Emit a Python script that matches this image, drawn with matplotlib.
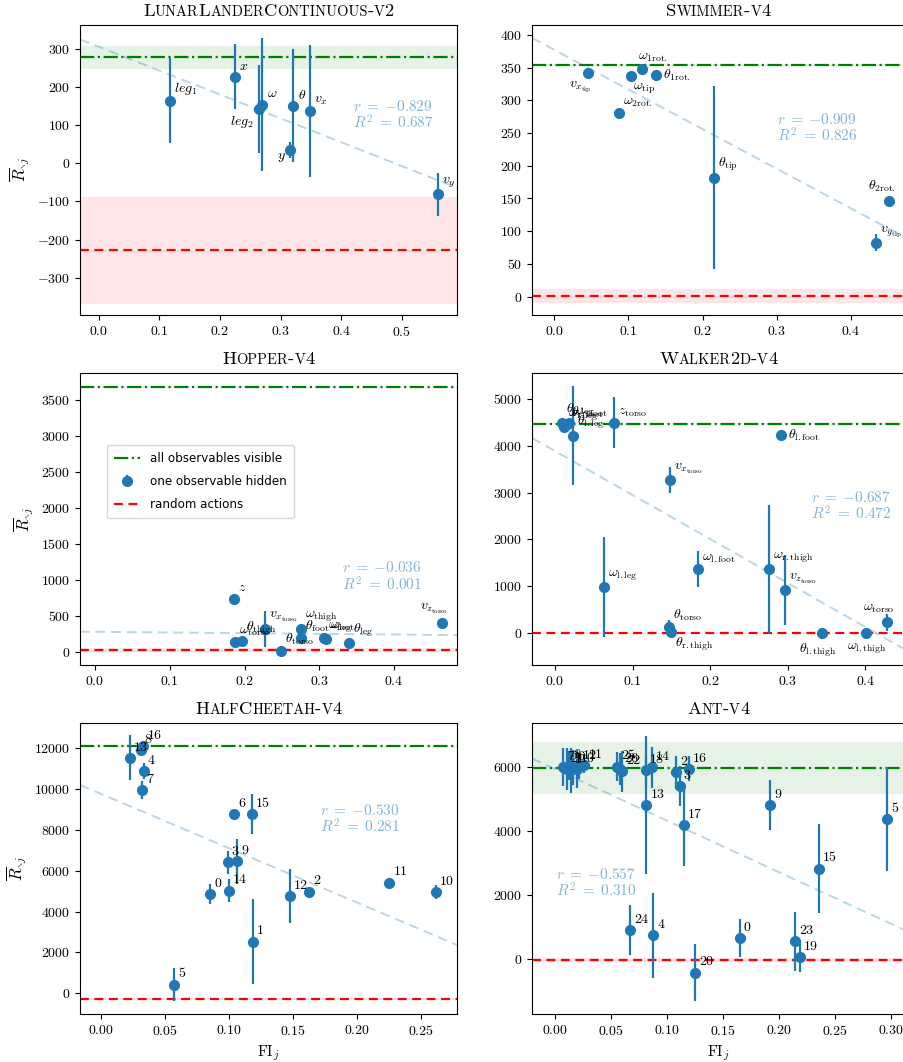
import numpy as np
import matplotlib
matplotlib.use("Agg")
import matplotlib.pyplot as plt
from matplotlib.ticker import MultipleLocator
from matplotlib.offsetbox import TextArea, HPacker, AnchoredOffsetbox

plt.rcParams['font.family'] = 'serif'
plt.rcParams['font.serif'] = ['cmr10']
plt.rcParams['mathtext.fontset'] = 'cm'
plt.rcParams['axes.formatter.use_mathtext'] = True
plt.rcParams['font.size'] = 10

# ---- LunarLanderContinuous-v2
ll_names = [r'$leg_1$', r'$x$', r'$leg_2$', r'$\omega$', r'$\theta$', r'$y$', r'$v_x$', r'$v_y$']
ll_fi = [0.117, 0.225, 0.264, 0.270, 0.321, 0.316, 0.349, 0.559]
ll_ret = [164, 227, 143, 154, 151, 35, 137, -81]
ll_err = [112, 85, 115, 175, 148, 22, 173, 56]
ll_full = (278, 31)
ll_rand = (-228, 140)

# ---- Swimmer-v4
sw_names = [r'$v_{x_\mathrm{tip}}$', r'$\omega_\mathrm{tip}$', r'$\omega_\mathrm{1rot.}$',
            r'$\theta_\mathrm{1rot.}$', r'$\omega_\mathrm{2rot.}$', r'$\theta_\mathrm{tip}$',
            r'$\theta_\mathrm{2rot.}$', r'$v_{y_\mathrm{tip}}$']
sw_fi = [0.045, 0.103, 0.119, 0.1375, 0.087, 0.215, 0.451, 0.434]
sw_ret = [341, 337, 347, 338, 280, 182, 146, 82]
sw_err = [3, 3, 3, 3, 3, 140, 3, 13]
sw_full = (353.6, 2)
sw_rand = (1, 11)

# ---- Hopper-v4
ho_names = [r'$\omega_\mathrm{torso}$', r'$\theta_\mathrm{thigh}$', r'$z$', r'$v_{x_\mathrm{torso}}$',
            r'$\theta_\mathrm{torso}$', r'$\omega_\mathrm{thigh}$', r'$\theta_\mathrm{foot}$',
            r'$\omega_\mathrm{foot}$', r'$\omega_\mathrm{leg}$', r'$\theta_\mathrm{leg}$',
            r'$v_{z_\mathrm{torso}}$']
ho_fi = [0.1875, 0.197, 0.186, 0.2276, 0.2486, 0.2748, 0.2748, 0.306, 0.3087, 0.340, 0.464]
ho_ret = [134, 153, 737, 320, 14, 320, 185, 195, 171, 125, 403]
ho_err = [20, 20, 30, 250, 15, 20, 20, 20, 20, 20, 20]
ho_full = (3671, 10)
ho_rand = (23, 30)

# ---- Walker2d-v4
wa_names = [r'$\theta_\mathrm{r.leg}$', r'$\omega_\mathrm{r.leg}$', r'$\theta_\mathrm{r.foot}$',
            r'$\omega_\mathrm{r.foot}$', r'$\theta_\mathrm{l.leg}$', r'$z_\mathrm{torso}$',
            r'$\theta_\mathrm{l.foot}$', r'$v_{x_\mathrm{torso}}$', r'$\omega_\mathrm{l.leg}$',
            r'$\omega_\mathrm{l.foot}$', r'$\omega_\mathrm{r.thigh}$', r'$v_{z_\mathrm{torso}}$',
            r'$\omega_\mathrm{torso}$', r'$\theta_\mathrm{torso}$', r'$\theta_\mathrm{r.thigh}$',
            r'$\theta_\mathrm{l.thigh}$', r'$\omega_\mathrm{l.thigh}$']
wa_fi = [0.0086, 0.012, 0.015, 0.018, 0.0227, 0.076, 0.2918, 0.1485, 0.0627, 0.1845,
         0.2755, 0.2966, 0.4275, 0.1468, 0.149, 0.3446, 0.4013]
wa_ret = [4479, 4393, 4464, 4480, 4214, 4486, 4221, 3271, 979, 1364,
          1364, 914, 236, 129, 14, 0, 0]
wa_err = [60, 60, 60, 60, 1050, 547, 50, 275, 1071, 379,
          1364, 750, 180, 143, 20, 10, 10]
wa_full = (4471, 10)
wa_rand = (0, 10)

# ---- HalfCheetah-v4 (observables by index)
hc_fi = [0.0855, 0.119, 0.1627, 0.099, 0.0334, 0.0574, 0.104, 0.0323, 0.031,
         0.1066, 0.2617, 0.2255, 0.1476, 0.0227, 0.0998, 0.1178, 0.033]
hc_ret = [4865, 2531, 4980, 6400, 10890, 424, 8784, 9959, 11900,
          6449, 4947, 5420, 4751, 11526, 5029, 8751, 12080]
hc_err = [490, 2060, 60, 570, 390, 790, 60, 430, 200,
          1100, 350, 60, 1330, 1090, 540, 980, 150]
hc_full = (12082, 30)
hc_rand = (-278, 30)

# ---- Ant-v4 (observables by index)
an_fi = [0.1644, 0.014, 0.108, 0.111, 0.0871, 0.2958, 0.016, 0.007, 0.012,
         0.1914, 0.019, 0.026, 0.021, 0.0812, 0.086, 0.2354, 0.119, 0.1147,
         0.0809, 0.218, 0.1246, 0.010, 0.0595, 0.2137, 0.0669, 0.0547, 0.0575]
an_ret = [660, 5900, 5843, 5414, 733, 4366, 6000, 6000, 6050,
          4817, 5950, 6060, 6030, 4817, 5990, 2827, 5948, 4178,
          5916, 52, -429, 5950, 5870, 545, 890, 6020, 5950]
an_err = [600, 700, 520, 620, 1320, 1630, 550, 600, 450,
          785, 600, 250, 400, 2150, 650, 1390, 390, 1280,
          500, 470, 905, 650, 650, 920, 785, 450, 500]
an_full = (5969, 816)
an_rand = (-31, 60)

# correlation stats shown in each panel
r_vals = [-0.829, -0.909, -0.036, -0.687, -0.530, -0.557]
r2_vals = [0.687, 0.826, 0.001, 0.472, 0.281, 0.310]


def sc_title(ax, text, size=13.4):
    # small-caps title built from runs of big / small capitals
    runs = []
    for ch in text:
        fs = size * 0.78 if ch.islower() else size
        if runs and runs[-1][1] == fs:
            runs[-1][0] += ch.upper()
        else:
            runs.append([ch.upper(), fs])
    boxes = [TextArea(t, textprops=dict(fontsize=fs, family='cmr10')) for t, fs in runs]
    row = HPacker(children=boxes, align='baseline', pad=0, sep=0)
    box = AnchoredOffsetbox(loc='lower center', child=row, pad=0, borderpad=0, frameon=False,
                            bbox_to_anchor=(0.5, 1.02), bbox_transform=ax.transAxes)
    ax.add_artist(box)


def panel(ax, title, names, fi, ret, err, full, rand, xlim, ylim, xstep, ystep,
          k, txt_pos, offsets={}):
    fi = np.asarray(fi)
    ret = np.asarray(ret)
    ax.axhspan(full[0] - full[1], full[0] + full[1], color='g', alpha=0.1, lw=0)
    ax.axhspan(rand[0] - rand[1], rand[0] + rand[1], color='r', alpha=0.1, lw=0)
    h_full = ax.axhline(full[0], color='g', ls='-.', lw=1.6, label='all observables visible')
    h_obs = ax.errorbar(fi, ret, yerr=err, fmt='o', color='C0', ms=7, elinewidth=1.6,
                        label='one observable hidden', zorder=3)
    h_rand = ax.axhline(rand[0], color='r', lw=1.6, dashes=(4, 2.5), label='random actions')

    slope, icpt = np.polyfit(fi, ret, 1)
    xs = np.array(xlim)
    ax.plot(xs, slope * xs + icpt, color='C0', alpha=0.3, lw=1.4, dashes=(5, 3), zorder=2)
    ax.text(txt_pos[0], txt_pos[1],
            r'$r\;=\;{%.3f}$' % r_vals[k] + '\n' + r'$R^2\;=\;{%.3f}$' % r2_vals[k],
            transform=ax.transAxes, color='C0', alpha=0.55, fontsize=11,
            ha='left', va='top', linespacing=1.0)

    for i, name in enumerate(names):
        dx, dy, ha, va = offsets.get(i, (3, 3, 'left', 'bottom'))
        ax.annotate(name, (fi[i], ret[i]), xytext=(dx, dy), textcoords='offset points',
                    ha=ha, va=va, fontsize=10, zorder=4)

    ax.set_xlim(xlim)
    ax.set_ylim(ylim)
    ax.xaxis.set_major_locator(MultipleLocator(xstep))
    ax.yaxis.set_major_locator(MultipleLocator(ystep))
    sc_title(ax, title)
    return [h_full, h_obs, h_rand]


fig = plt.figure(figsize=(9.04, 10.62), dpi=100)
lefts = [0.0885, 0.5885]
widths = [0.417, 0.4125]
bottoms = [0.7034, 0.3738, 0.0452]
heights = [0.2731, 0.2750, 0.2740]
axs = [[fig.add_axes([lefts[c], bottoms[r], widths[c], heights[r]]) for c in range(2)]
       for r in range(3)]

panel(axs[0][0], 'LunarLanderContinuous-v2', ll_names, ll_fi, ll_ret, ll_err, ll_full, ll_rand,
      (-0.031, 0.591), (-398, 363), 0.1, 100, 0, (0.724, 0.745),
      {2: (-4, -4, 'right', 'top'), 5: (-3, -1, 'right', 'top')})

panel(axs[0][1], 'Swimmer-v4', sw_names, sw_fi, sw_ret, sw_err, sw_full, sw_rand,
      (-0.030, 0.473), (-28, 415), 0.1, 50, 1, (0.657, 0.70),
      {0: (3, -4, 'right', 'top'), 1: (2, -4, 'left', 'top'), 2: (-3, 4, 'left', 'bottom'),
       3: (5, 0, 'left', 'center'), 6: (-5, 5, 'center', 'bottom')})

handles = panel(axs[1][0], 'Hopper-v4', ho_names, ho_fi, ho_ret, ho_err, ho_full, ho_rand,
                (-0.020, 0.484), (-185, 3871), 0.1, 500, 2, (0.695, 0.358),
                {10: (4, 5, 'right', 'bottom')})

panel(axs[1][1], 'Walker2d-v4', wa_names, wa_fi, wa_ret, wa_err, wa_full, wa_rand,
      (-0.0296, 0.451), (-680, 5550), 0.1, 1000, 3, (0.748, 0.60),
      {6: (5, 0, 'left', 'center'), 12: (-6, 5, 'center', 'bottom'),
       14: (3, -2, 'left', 'top'), 15: (-3, -6, 'center', 'top'),
       16: (0, -6, 'center', 'top')})

panel(axs[2][0], 'HalfCheetah-v4', [str(i) for i in range(len(hc_fi))], hc_fi, hc_ret, hc_err,
      hc_full, hc_rand, (-0.0164, 0.2784), (-1012, 13224), 0.05, 2000, 4, (0.637, 0.725))

panel(axs[2][1], 'Ant-v4', [str(i) for i in range(len(an_fi))], an_fi, an_ret, an_err,
      an_full, an_rand, (-0.0208, 0.312), (-1728, 7382), 0.05, 2000, 5, (0.064, 0.505))

for r in range(3):
    axs[r][0].set_ylabel(r'$\overline{R}_{\setminus j}$', fontsize=12)
for c in range(2):
    axs[2][c].set_xlabel(r'FI$_j$', fontsize=11)

axs[1][0].legend(handles=handles, loc='upper left', bbox_to_anchor=(0.055, 0.775),
                 prop={'family': 'DejaVu Sans', 'size': 8.6}, labelspacing=0.85,
                 borderpad=0.6, handlelength=2.2)

fig.savefig('out.png', dpi=100)
